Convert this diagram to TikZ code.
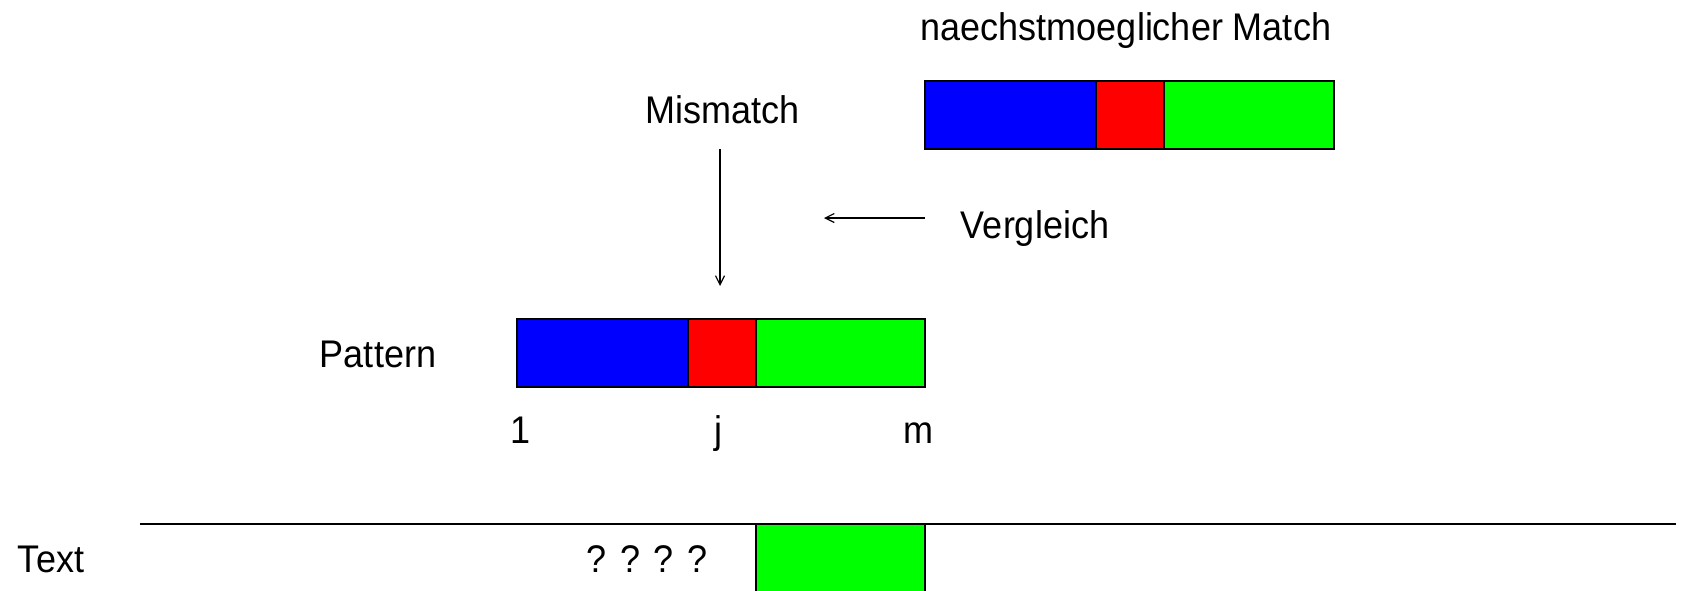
\documentclass[tikz,border=0pt]{standalone}
\usepackage{fontspec}
\setmainfont{Liberation Sans}
\usetikzlibrary{arrows.meta}
\newcommand{\tallt}[1]{\scalebox{1}[1.07]{#1}}
\begin{document}
\begin{tikzpicture}[x=1pt,y=-1pt,
  lbl/.style={font=\fontsize{36}{40}\selectfont, anchor=base, inner sep=0pt},
  seg/.style={draw=black, line width=1.2pt, anchor=north west, inner sep=0pt, outer sep=0pt},
  arr/.style={line width=1.2pt, -{Straight Barb[length=9pt,width=9pt]}}]
\useasboundingbox[fill=white] (0,0) rectangle (1690,590);
% top bar
\node[seg, fill=blue, minimum width=171pt, minimum height=68pt] (tb1) at (925,81) {};
\node[seg, fill=red, minimum width=68pt, minimum height=68pt] (tb2) at (1096,81) {};
\node[seg, fill=green, minimum width=170pt, minimum height=68pt] (tb3) at (1164,81) {};
% pattern bar
\node[seg, fill=blue, minimum width=171pt, minimum height=68pt] (pb1) at (517,319) {};
\node[seg, fill=red, minimum width=68pt, minimum height=68pt] (pb2) at (688,319) {};
\node[seg, fill=green, minimum width=169pt, minimum height=68pt] (pb3) at (756,319) {};
% text green box
\node[seg, fill=green, minimum width=169pt, minimum height=68pt] (tg) at (756,524) {};
% labels
\node[lbl] (nm) at (1126,40) {\tallt{naechstmoeglicher Match}};
\node[lbl] (mis) at (723,123) {\tallt{Mismatch}};
\node[lbl] (ver) at (1035,238) {\tallt{Vergleich}};
\node[lbl] (pat) at (378,367) {\tallt{Pattern}};
\node[lbl] (one) at (521,443) {\tallt{1}};
\node[lbl] (jj) at (718,443) {\tallt{j}};
\node[lbl] (mm) at (918,443) {\tallt{m}};
\node[lbl] (txt) at (51,572) {\tallt{Text}};
\node[lbl] (qq) at (647,572) {\tallt{? ? ? ?}};
% arrows
\coordinate (a1) at (720,149);
\coordinate (a2) at (720,286);
\draw[arr] (a1) -- (a2);
\coordinate (v1) at (925,218);
\coordinate (v2) at (824,218);
\draw[arr] (v1) -- (v2);
% text line
\coordinate (l1) at (140,524);
\coordinate (l2) at (1676,524);
\draw[line width=1.8pt] (l1) -- (l2);
\end{tikzpicture}
\end{document}
